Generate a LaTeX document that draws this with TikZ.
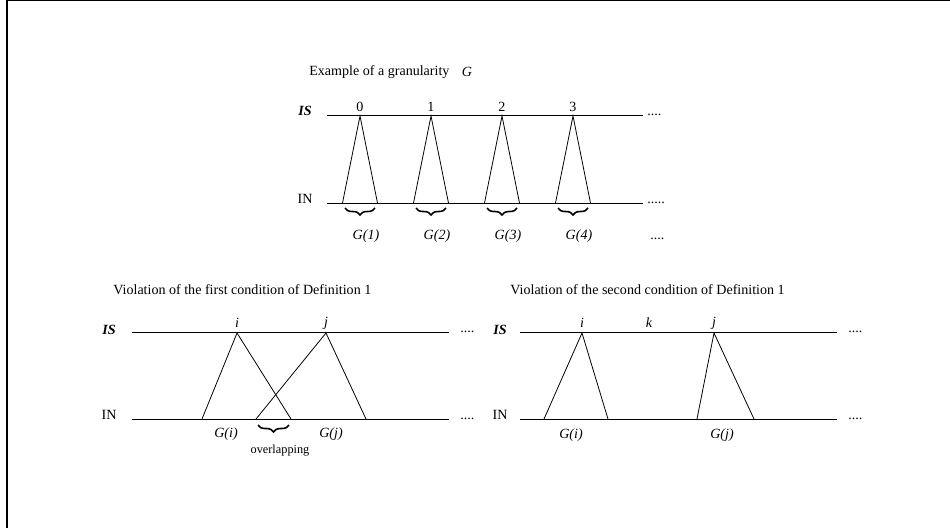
\documentclass[tikz,border=0pt]{standalone}
\usepackage{fontspec}
\setmainfont{Liberation Serif}
\usetikzlibrary{decorations.pathreplacing}
\tikzset{
  axisline/.style={line width=0.5pt},
  grain/.style={line width=0.45pt},
  grbrace/.style={decorate,decoration={brace,amplitude=4pt},line width=0.9pt},
  lab/.style={inner sep=0pt},
  dots/.style={inner sep=0pt,anchor=base west}
}
\begin{document}
\begin{tikzpicture}[x=0.02cm,y=-0.02cm,font=\fontsize{8}{9.6}\selectfont]
\useasboundingbox (0,0) rectangle (950,528);
% frame
\draw [line width=1.3pt] (7,0) -- (7,528);
\draw [line width=0.6pt] (7,0.5) -- (950,0.5);

% example of a granularity
\node [lab,anchor=west] (title) at (309,72) {Example of a granularity};
\node [lab] (gname) at (467,72) {\textit{G}};
\node [lab] (is) at (305,111) {\textbf{\textit{IS}}};
\node [lab] (in) at (305,199) {IN};
\coordinate (isl) at (327,115);
\coordinate (isr) at (643,115);
\coordinate (inl) at (327,203);
\coordinate (inr) at (643,203);
\draw [axisline] (isl) -- (isr);
\draw [axisline] (inl) -- (inr);
\node [dots] (isdots) at (647,115) {....};
\node [dots] (indots) at (647,203) {.....};
\node [dots] (gdots) at (650,239) {....};
\foreach \n/\x/\g in {0/360/1,1/431/2,2/502/3,3/573/4} {
  \node [lab] (num\n) at (\x,107) {\n};
  \coordinate (a\n) at (\x,116);
  \coordinate (bl\n) at (\x-17.5,203);
  \coordinate (br\n) at (\x+17.5,203);
  \draw [grain] (bl\n) -- (a\n) -- (br\n);
  \coordinate (cl\n) at (\x-15,208);
  \coordinate (cr\n) at (\x+15,208);
  \draw [grbrace] (cr\n) -- (cl\n);
  \node [lab] (g\n) at (\x+6,236) {\textit{G(\g)}};
}

% first condition
\node [lab,anchor=west] (vtitle1) at (113,290) {Violation of the first condition of Definition 1};
\node [lab] (is1) at (109,330) {\textbf{\textit{IS}}};
\node [lab] (in1) at (109,415) {IN};
\coordinate (is1l) at (132,332);
\coordinate (is1r) at (449,332);
\coordinate (in1l) at (132,419);
\coordinate (in1r) at (449,419);
\draw [axisline] (is1l) -- (is1r);
\draw [axisline] (in1l) -- (in1r);
\node [dots] (is1dots) at (460,332) {....};
\node [dots] (in1dots) at (460,419) {....};
\node [lab] (i1) at (237,323) {\textit{i}};
\node [lab] (j1) at (326,323) {\textit{j}};
\coordinate (ai1) at (237,333);
\coordinate (aj1) at (326,333);
\coordinate (bi1l) at (202,419);
\coordinate (bi1r) at (291,419);
\coordinate (bj1l) at (256,419);
\coordinate (bj1r) at (366,419);
\draw [grain] (bi1l) -- (ai1) -- (bi1r);
\draw [grain] (bj1l) -- (aj1) -- (bj1r);
\coordinate (ol) at (258,425);
\coordinate (or) at (289,425);
\draw [grbrace] (or) -- (ol);
\node [lab] (gi1) at (226,434) {\textit{G(i)}};
\node [lab] (gj1) at (331,434) {\textit{G(j)}};
\node [lab,font=\fontsize{7}{8.4}\selectfont] (over) at (280,451) {overlapping};

% second condition
\node [lab,anchor=west] (vtitle2) at (510,290) {Violation of the second condition of Definition 1};
\node [lab] (is2) at (500,330) {\textbf{\textit{IS}}};
\node [lab] (in2) at (500,415) {IN};
\coordinate (is2l) at (520,332);
\coordinate (is2r) at (837,332);
\coordinate (in2l) at (520,419);
\coordinate (in2r) at (837,419);
\draw [axisline] (is2l) -- (is2r);
\draw [axisline] (in2l) -- (in2r);
\node [dots] (is2dots) at (848,332) {....};
\node [dots] (in2dots) at (848,419) {....};
\node [lab] (i2) at (582,323) {\textit{i}};
\node [lab] (k2) at (649,323) {\textit{k}};
\node [lab] (j2) at (714,323) {\textit{j}};
\coordinate (ai2) at (582,333);
\coordinate (aj2) at (714,333);
\coordinate (bi2l) at (544,419);
\coordinate (bi2r) at (608,419);
\coordinate (bj2l) at (697,419);
\coordinate (bj2r) at (754,419);
\draw [grain] (bi2l) -- (ai2) -- (bi2r);
\draw [grain] (bj2l) -- (aj2) -- (bj2r);
\node [lab] (gi2) at (571,435) {\textit{G(i)}};
\node [lab] (gj2) at (722,435) {\textit{G(j)}};
\end{tikzpicture}
\end{document}
